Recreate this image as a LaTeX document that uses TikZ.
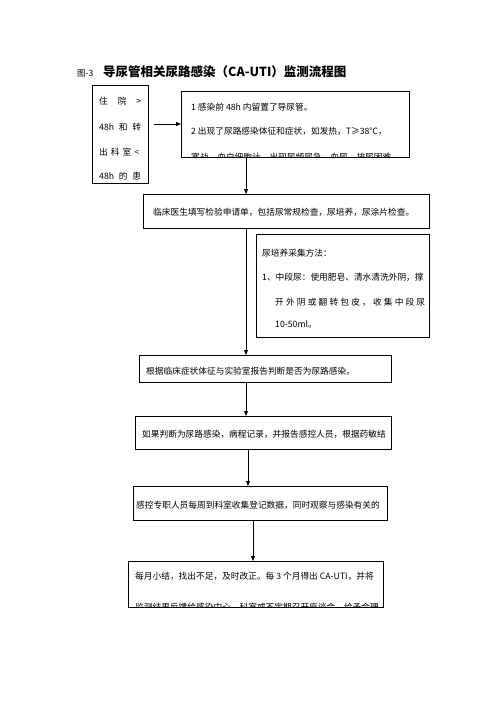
\documentclass[tikz,border=0pt]{standalone}
\usepackage{fontspec}
\setmainfont{Noto Sans CJK SC}
\usetikzlibrary{arrows.meta}

\begin{document}
\begin{tikzpicture}[x=1pt, y=-1pt, >={Triangle[length=5pt,width=4pt]},
		box/.style={draw, line width=0.8pt, anchor=north west, inner sep=0pt},
		txt/.style={anchor=west, inner sep=0pt, font=\fontsize{8.7}{10}\selectfont},
		arr/.style={->, line width=0.8pt}]
		\useasboundingbox (0,0) rectangle (496,702);
		% title
		\node[anchor=west, inner sep=0pt, font=\fontsize{8.5}{10}\selectfont] (fig) at (77,73) {图-3};
		\node[anchor=west, inner sep=0pt, font=\bfseries\fontsize{12.5}{14}\selectfont] (title) at (103,72) {导尿管相关尿路感染（CA-UTI）监测流程图};
		% boxes
		\node[box, minimum width=56pt, minimum height=98pt] (bA) at (92,85) {};
		\node[box, minimum width=228pt, minimum height=66pt] (bB) at (181,91) {};
		\node[box, minimum width=286pt, minimum height=34pt] (bC) at (143,194) {};
		\node[box, minimum width=173pt, minimum height=103pt] (bD) at (256,234) {};
		\node[box, minimum width=252pt, minimum height=27pt] (bE) at (139,355) {};
		\node[box, minimum width=256pt, minimum height=33pt] (bF) at (135,416) {};
		\node[box, minimum width=254pt, minimum height=34pt] (bG) at (133,486) {};
		\node[box, minimum width=255pt, minimum height=46pt] (bH) at (128,561) {};
		% patients
		\node[txt] (a1) at (99,101) {\makebox[42pt][s]{住\hfil 院\hfil >}};
		\node[txt] (a2) at (99,127) {\makebox[42pt][s]{48h\hfil 和\hfil 转}};
		\node[txt] (a3) at (99,152) {\makebox[40pt][s]{出\hfil 科\hfil 室\hfil <}};
		\node[txt] (a4) at (99,176) {\makebox[42pt][s]{48h\hfil 的\hfil 患}};
		% criteria
		\begin{scope}
			\clip (bB.south west) rectangle (bB.north east);
			\node[txt] (b1) at (191,107) {1 感染前 48h 内留置了导尿管。};
			\node[txt] (b2) at (191,131) {2 出现了尿路感染体征和症状，如发热，T≥38℃，};
			\node[txt] (b3) at (191,157) {寒战、血白细胞计、出现尿频尿急、血尿、排尿困难};
		\end{scope}
		\node[txt] (c1) at (153,212) {临床医生填写检验申请单，包括尿常规检查，尿培养，尿涂片检查。};
		% sampling
		\node[txt] (d1) at (262,253) {尿培养采集方法：};
		\node[txt] (d2) at (262,277) {1、中段尿：使用肥皂、清水清洗外阴，撑};
		\node[txt] (d3) at (275,302) {\makebox[150pt][s]{开\hfil 外\hfil 阴\hfil 或\hfil 翻\hfil 转\hfil 包\hfil 皮\hfil ，\hfil 收\hfil 集\hfil 中\hfil 段\hfil 尿}};
		\node[txt] (d4) at (275,324) {10-50ml。};
		\node[txt] (e1) at (146,371) {根据临床症状体征与实验室报告判断是否为尿路感染。};
		\node[txt] (f1) at (142,434) {如果判断为尿路感染，病程记录，并报告感控人员，根据药敏结};
		\node[txt] (g1) at (136,505) {感控专职人员每周到科室收集登记数据，同时观察与感染有关的};
		\begin{scope}
			\clip (bH.south west) rectangle (bH.north east);
			\node[txt] (h1) at (135,576) {每月小结，找出不足，及时改正。每 3 个月得出 CA-UTI，并将};
			\node[txt] (h2) at (135,607) {监测结果反馈给感染中心、科室或不定期召开座谈会，给予合理};
		\end{scope}
		% arrows
		\coordinate (ya) at (0,124);
		\coordinate (xa) at (246,0);
		\coordinate (xb) at (248,0);
		\coordinate (xc) at (253,0);
		\draw[arr, shorten <=5pt] (bA.east |- ya) -- (bB.west |- ya);
		\draw[arr] (bB.south -| xa) -- (bC.north -| xa);
		\draw[arr] (bC.south -| xa) -- (bE.north -| xa);
		\draw[arr] (bE.south -| xa) -- (bF.north -| xa);
		\draw[arr] (bF.south -| xb) -- (bG.north -| xb);
		\draw[arr] (bG.south -| xc) -- (bH.north -| xc);
	\end{tikzpicture}
\end{document}
